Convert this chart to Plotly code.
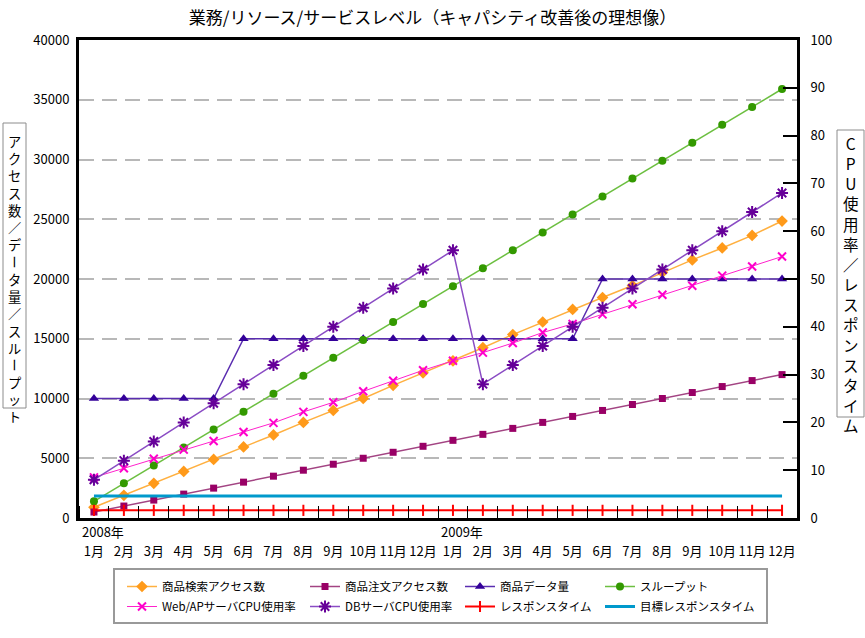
import plotly.graph_objects as go

# ---------------- data ----------------
month_labels = ["1月", "2月", "3月", "4月", "5月", "6月", "7月", "8月", "9月", "10月", "11月", "12月",
                "1月", "2月", "3月", "4月", "5月", "6月", "7月", "8月", "9月", "10月", "11月", "12月"]
year_labels = ["2008年", "2009年"]
year_start_index = [0, 12]

search_access = [900, 1900, 2900, 3900, 4900, 5950, 6950, 8000, 9000, 10000, 11100, 12150,
                 13150, 14250, 15350, 16400, 17450, 18450, 19450, 20550, 21600, 22600, 23650, 24850]
order_access = [500, 1000, 1500, 2000, 2500, 3000, 3500, 4000, 4500, 5000, 5500, 6000,
                6500, 7000, 7500, 8000, 8500, 9000, 9500, 10000, 10500, 11000, 11500, 12000]
data_volume = [10000, 10000, 10000, 10000, 10000, 15000, 15000, 15000, 15000, 15000, 15000, 15000,
               15000, 15000, 15000, 15000, 15000, 20000, 20000, 20000, 20000, 20000, 20000, 20000]
throughput = [1400, 2900, 4400, 5900, 7400, 8900, 10400, 11900, 13400, 14900, 16400, 17900,
              19400, 20900, 22400, 23900, 25400, 26900, 28400, 29900, 31400, 32900, 34400, 35900]
web_cpu = [8.5, 10.4, 12.4, 14.3, 16.1, 18.0, 19.9, 22.2, 24.2, 26.5, 28.7, 30.9,
           32.9, 34.6, 36.6, 38.8, 40.6, 42.6, 44.7, 46.7, 48.6, 50.7, 52.6, 54.7]
db_cpu = [8, 12, 16, 20, 24, 28, 32, 36, 40, 44, 48, 52,
          56, 28, 32, 36, 40, 44, 48, 52, 56, 60, 64, 68]
response_time = [1.6, 1.6, 1.6, 1.6, 1.6, 1.6, 1.6, 1.6, 1.6, 1.6, 1.6, 1.6,
                 1.6, 1.6, 1.6, 1.6, 1.6, 1.6, 1.6, 1.6, 1.6, 1.6, 1.6, 1.6]
target_response = [4.6, 4.6, 4.6, 4.6, 4.6, 4.6, 4.6, 4.6, 4.6, 4.6, 4.6, 4.6,
                   4.6, 4.6, 4.6, 4.6, 4.6, 4.6, 4.6, 4.6, 4.6, 4.6, 4.6, 4.6]

title_text = "業務/リソース/サービスレベル（キャパシティ改善後の理想像）"
left_title = "アクセス数／データ量／スループット"
right_title = "CPU使用率／レスポンスタイム"

x = list(range(len(month_labels)))

FONT = "Noto Sans CJK JP, Noto Sans, sans-serif"
W, H = 865, 638
L, R, T, B = 79, 797, 40, 518
PW, PH = R - L, B - T


def px_x(p):
    return (p - L) / PW


def px_y(p):
    return (B - p) / PH


fig = go.Figure()

# left-axis series (legend row 1)
fig.add_trace(go.Scatter(x=x, y=search_access, name="商品検索アクセス数", mode="lines+markers",
                         line=dict(color="#FFB040", width=1.5),
                         marker=dict(symbol="diamond", size=9, color="#FF9A1A"),
                         legend="legend", legendwidth=138))
fig.add_trace(go.Scatter(x=x, y=order_access, name="商品注文アクセス数", mode="lines+markers",
                         line=dict(color="#A34483", width=1.5),
                         marker=dict(symbol="square", size=7, color="#990066"),
                         legend="legend", legendwidth=110))
fig.add_trace(go.Scatter(x=x, y=data_volume, name="商品データ量", mode="lines+markers",
                         line=dict(color="#5A2DB0", width=1.5),
                         marker=dict(symbol="triangle-up", size=9, color="#330099"),
                         legend="legend", legendwidth=95))
fig.add_trace(go.Scatter(x=x, y=throughput, name="スループット", mode="lines+markers",
                         line=dict(color="#6CBF40", width=1.5),
                         marker=dict(symbol="circle", size=8, color="#339900"),
                         legend="legend", legendwidth=115))

# right-axis series (legend row 2)
fig.add_trace(go.Scatter(x=x, y=web_cpu, name="Web/APサーバCPU使用率", mode="lines+markers",
                         yaxis="y2",
                         line=dict(color="#FF22CC", width=1),
                         marker=dict(symbol="x-thin", size=8, color="#FF00CC",
                                     line=dict(color="#FF00CC", width=2)),
                         legend="legend2", legendwidth=138))
fig.add_trace(go.Scatter(x=x, y=db_cpu, name="DBサーバCPU使用率", mode="lines+markers",
                         yaxis="y2",
                         line=dict(color="#8A4CC4", width=1.5),
                         marker=dict(symbol="asterisk", size=10, color="#660099",
                                     line=dict(color="#660099", width=2)),
                         legend="legend2", legendwidth=110))
fig.add_trace(go.Scatter(x=x, y=response_time, name="レスポンスタイム", mode="lines+markers",
                         yaxis="y2",
                         line=dict(color="#FF0000", width=2),
                         marker=dict(symbol="line-ns", size=8, color="#FF0000",
                                     line=dict(color="#FF0000", width=2)),
                         legend="legend2", legendwidth=95))
fig.add_trace(go.Scatter(x=x, y=target_response, name="目標レスポンスタイム", mode="lines",
                         yaxis="y2",
                         line=dict(color="#0099CC", width=3),
                         legend="legend2", legendwidth=115))

annotations = []
# year labels
for lab, idx in zip(year_labels, year_start_index):
    annotations.append(dict(text=lab, x=idx - 0.5, xref="x", y=0, yref="paper",
                            xanchor="left", yanchor="top", xshift=1, yshift=-2,
                            showarrow=False, font=dict(family=FONT, size=13, color="black")))

shapes = []


def vertical_title(text, cx, top_c, step, box):
    """Stack characters vertically; the long-vowel mark is turned upright as in vertical writing."""
    size = step / 1.3
    groups = []
    for i, ch in enumerate(text):
        if ch == "ー":
            groups.append(([ch], [i], True))
        elif groups and not groups[-1][2]:
            groups[-1][0].append(ch)
            groups[-1][1].append(i)
        else:
            groups.append(([ch], [i], False))
    for chars, idxs, rotated in groups:
        yc = top_c + step * (idxs[0] + idxs[-1]) / 2
        annotations.append(dict(text="<br>".join(chars), x=px_x(cx), y=px_y(yc),
                                xref="paper", yref="paper", xanchor="center", yanchor="middle",
                                showarrow=False, textangle=90 if rotated else 0,
                                borderpad=0, align="center",
                                font=dict(family=FONT, size=size, color="black")))
    x0, y0, x1, y1 = box
    shapes.append(dict(type="rect", xref="paper", yref="paper",
                       x0=px_x(x0), x1=px_x(x1), y0=px_y(y0), y1=px_y(y1),
                       line=dict(color="#8C8C8C", width=1)))


vertical_title(left_title, 14.5, 141.5, 17.2, (3, 123, 26, 408))
vertical_title(right_title, 851, 143, 20.15, (837, 130, 864, 417))

# legend frame
shapes.append(dict(type="rect", xref="paper", yref="paper",
                   x0=px_x(114), x1=px_x(767), y0=px_y(623), y1=px_y(569),
                   line=dict(color="#999999", width=2)))

fig.update_layout(
    width=W, height=H,
    margin=dict(l=L, r=W - R, t=T, b=H - B, autoexpand=False),
    paper_bgcolor="white", plot_bgcolor="white",
    font=dict(family=FONT, size=13, color="black"),
    title=dict(text=title_text, x=0.5, xref="container", xanchor="center",
               y=1 - 18 / H, yref="container", yanchor="middle",
               font=dict(family=FONT, size=17, color="black")),
    xaxis=dict(range=[-0.5, 23.5], tickmode="array", tickvals=x, ticktext=month_labels,
               ticks="", showgrid=False, zeroline=False,
               showline=True, linecolor="black", linewidth=3, mirror=True,
               ticklabelstandoff=19,
               tickfont=dict(family=FONT, size=13, color="black"),
               minor=dict(tickmode="linear", tick0=-0.5, dtick=1, ticks="inside",
                          ticklen=12, tickwidth=1, tickcolor="black", showgrid=False)),
    yaxis=dict(range=[0, 40000], dtick=5000, tick0=0, tickformat="d", showgrid=True,
               gridcolor="#B8B8B8", gridwidth=2, griddash="15px,8px",
               zeroline=False, showline=True, linecolor="black", linewidth=3,
               ticks="", ticklabelstandoff=4,
               tickfont=dict(family=FONT, size=13, color="black")),
    yaxis2=dict(range=[0, 100], dtick=10, tick0=0, overlaying="y", side="right",
                showgrid=False, zeroline=False, showline=True, linecolor="black", linewidth=3,
                ticks="inside", ticklen=14, tickwidth=2, tickcolor="black",
                ticklabelstandoff=8,
                tickfont=dict(family=FONT, size=13, color="black")),
    legend=dict(orientation="h", x=px_x(122), xanchor="left", y=px_y(572), yanchor="top",
                borderwidth=0, bgcolor="rgba(0,0,0,0)",
                font=dict(family=FONT, size=11.5, color="black"), traceorder="normal"),
    legend2=dict(orientation="h", x=px_x(122), xanchor="left", y=px_y(592), yanchor="top",
                 borderwidth=0, bgcolor="rgba(0,0,0,0)",
                 font=dict(family=FONT, size=11.5, color="black"), traceorder="normal"),
    annotations=annotations,
    shapes=shapes,
    showlegend=True,
)

fig.write_html("out.html", config={"displayModeBar": False},
               post_script="document.body.style.margin='0px';")
